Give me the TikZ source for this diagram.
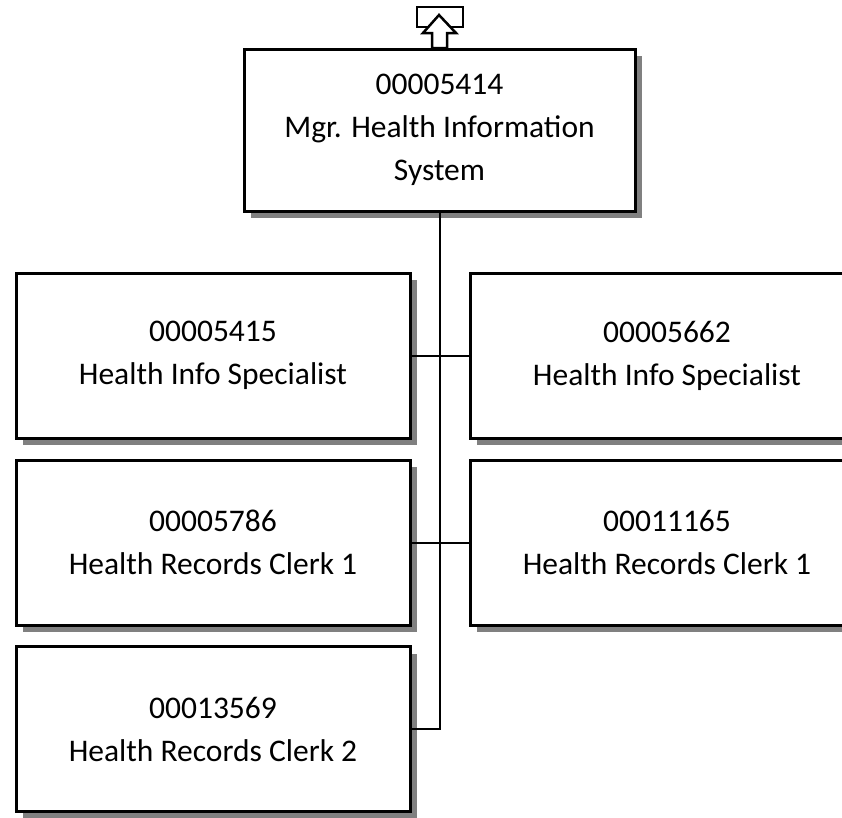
\documentclass[tikz,border=0pt]{standalone}
\usepackage{fontspec}
\setmainfont{Carlito}
\usetikzlibrary{shadows}
\definecolor{shade}{HTML}{808080}

\tikzset{
  posbox/.style={draw=black, line width=3pt, fill=white, minimum width=394pt, minimum height=165pt,
    align=center, font=\fontsize{31.5}{43}\selectfont,
    general shadow={fill=shade, shadow xshift=7pt, shadow yshift=-7pt}},
  link/.style={draw=black, line width=2pt}
}

\begin{document}
\begin{tikzpicture}[x=1pt,y=-1pt]
  \useasboundingbox (0,0) rectangle (842,817);
  \clip (0,0) rectangle (842,817);
  % manager box
  \node[posbox, minimum width=391pt, minimum height=162pt] (mgr) at (439.5,130) {00005414\\Mgr. Health Information\\System};
  % reports
  \foreach \n/\x/\y/\id/\title in {a/213/355.5/00005415/Health Info Specialist,
      b/667/355.5/00005662/Health Info Specialist,
      c/213/542.5/00005786/Health Records Clerk 1,
      d/667/542.5/00011165/Health Records Clerk 1,
      e/213/729/00013569/Health Records Clerk 2}
    \node[posbox] (\n) at (\x,\y) {\id\\\title};
  % connectors
  \draw[link] (mgr.south) -- (mgr.south |- e.east) -- (e.east);
  \draw[link] (a.east) -- (b.west);
  \draw[link] (c.east) -- (d.west);
  % up marker
  \draw[line width=2.5pt] (417,7) rectangle (463,27);
  \draw[line width=2.5pt, fill=white, line join=miter] (439,15) -- (456,33) -- (447,33) -- (447,48) -- (432,48) -- (432,33) -- (423,33) -- cycle;
\end{tikzpicture}
\end{document}
